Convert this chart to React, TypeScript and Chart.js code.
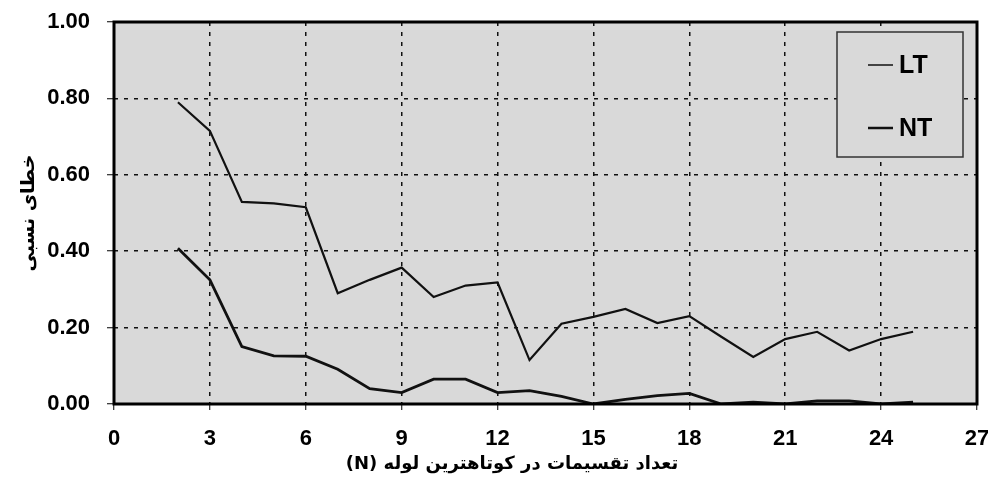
import React, { useEffect, useRef } from "react";
import { Chart, registerables } from "chart.js";

Chart.register(...registerables);

// ---- data ----
const nValues = [2, 3, 4, 5, 6, 7, 8, 9, 10, 11, 12, 13, 14, 15, 16, 17, 18, 19, 20, 21, 22, 23, 24, 25];
const ltValues = [0.79, 0.715, 0.529, 0.525, 0.515, 0.29, 0.325, 0.357, 0.28, 0.31, 0.318, 0.115, 0.21, 0.228, 0.249, 0.212, 0.23, 0.176, 0.123, 0.17, 0.189, 0.14, 0.17, 0.189];
const ntValues = [0.408, 0.325, 0.15, 0.126, 0.125, 0.091, 0.04, 0.03, 0.065, 0.065, 0.03, 0.035, 0.02, 0.0, 0.012, 0.022, 0.028, 0.0, 0.005, 0.0, 0.008, 0.008, 0.0, 0.005];
const seriesNames = ["LT", "NT"];
const xTickValues = [0, 3, 6, 9, 12, 15, 18, 21, 24, 27];
const yTickValues = [0, 0.2, 0.4, 0.6, 0.8, 1.0];
const xTitle = "تعداد تقسیمات در کوتاهترین لوله (N)";
const yTitle = "خطای نسبی";

const PLOT_BG = "#d9d9d9";
const INK = "#111111";

const frame = {
  id: "frame",
  beforeDraw(chart: any) {
    const { ctx, chartArea: a } = chart;
    ctx.save();
    ctx.fillStyle = "#ffffff";
    ctx.fillRect(0, 0, chart.width, chart.height);
    ctx.fillStyle = PLOT_BG;
    ctx.fillRect(a.left, a.top, a.right - a.left, a.bottom - a.top);
    ctx.restore();
  },
  afterDatasetsDraw(chart: any) {
    const { ctx, chartArea: a } = chart;
    ctx.save();
    // plot border
    ctx.strokeStyle = "#000";
    ctx.lineWidth = 3;
    ctx.strokeRect(a.left, a.top, a.right - a.left, a.bottom - a.top);

    // legend box
    const bx = a.right - 140;
    const by = a.top + 10;
    const bw = 126;
    const bh = 125;
    ctx.fillStyle = PLOT_BG;
    ctx.fillRect(bx, by, bw, bh);
    ctx.strokeStyle = "#333";
    ctx.lineWidth = 1.5;
    ctx.strokeRect(bx, by, bw, bh);

    const rows = [by + 33, by + 96];
    const widths = [1.5, 2.5];
    ctx.font = "bold 25px 'Liberation Sans', Arial, sans-serif";
    ctx.textBaseline = "middle";
    ctx.textAlign = "left";
    chart.data.datasets.forEach((ds: any, i: number) => {
      const y = rows[i];
      ctx.strokeStyle = INK;
      ctx.lineWidth = widths[i];
      ctx.beginPath();
      ctx.moveTo(bx + 31, y);
      ctx.lineTo(bx + 56, y);
      ctx.stroke();
      ctx.fillStyle = "#000";
      ctx.fillText(ds.label, bx + 62, y + 1);
    });
    ctx.restore();
  },
  afterDraw(chart: any) {
    const { ctx } = chart;
    ctx.save();
    ctx.font = "bold 18px 'DejaVu Sans', sans-serif";
    ctx.fillStyle = "#000";
    ctx.textAlign = "center";
    ctx.textBaseline = "middle";
    (ctx as any).direction = "rtl";
    ctx.fillText(xTitle, 512, 464);
    ctx.restore();
  },
};

export default function App() {
  const ref = useRef<HTMLCanvasElement | null>(null);

  useEffect(() => {
    if (!ref.current) return;
    const chart = new Chart(ref.current, {
      type: "line",
      data: {
        datasets: [
          {
            label: seriesNames[0],
            data: nValues.map((n, i) => ({ x: n, y: ltValues[i] })),
            borderColor: INK,
            borderWidth: 2.2,
            pointRadius: 0,
            tension: 0,
            fill: false,
          },
          {
            label: seriesNames[1],
            data: nValues.map((n, i) => ({ x: n, y: ntValues[i] })),
            borderColor: INK,
            borderWidth: 2.8,
            pointRadius: 0,
            tension: 0,
            fill: false,
          },
        ],
      },
      plugins: [frame],
      options: {
        responsive: false,
        animation: false,
        events: [],
        layout: { padding: { left: 0, top: 22, right: 11, bottom: 0 } },
        plugins: {
          legend: { display: false },
          tooltip: { enabled: false },
        },
        scales: {
          x: {
            type: "linear",
            min: 0,
            max: 27,
            afterFit: (s: any) => {
              s.height = 80;
              s.paddingLeft = 0;
              s.paddingRight = 0;
            },
            afterBuildTicks: (s: any) => {
              s.ticks = xTickValues.map((v) => ({ value: v }));
            },
            ticks: {
              color: "#000",
              padding: 16,
              maxRotation: 0,
              font: { family: "'Liberation Sans Narrow', 'Liberation Sans', Arial, sans-serif", size: 22, weight: "bold" },
              callback: (v: any) => String(v),
            },
            grid: {
              color: (c: any) => (c.tick && (c.tick.value === 0 || c.tick.value === 27) ? "rgba(0,0,0,0)" : INK),
              lineWidth: 1.5,
              tickLength: 6,
              tickColor: "#000",
              tickWidth: 1,
              tickBorderDash: [],
            },
            border: { display: false, dash: [4, 6] },
          },
          y: {
            type: "linear",
            min: 0,
            max: 1,
            afterFit: (s: any) => {
              s.width = 114;
              s.paddingTop = 0;
              s.paddingBottom = 0;
            },
            afterBuildTicks: (s: any) => {
              s.ticks = yTickValues.map((v) => ({ value: v }));
            },
            ticks: {
              color: "#000",
              padding: 17,
              font: { family: "'Liberation Sans', Arial, sans-serif", size: 22, weight: "bold" },
              callback: (v: any) => Number(v).toFixed(2),
            },
            grid: {
              color: (c: any) => (c.tick && (c.tick.value === 0 || c.tick.value === 1) ? "rgba(0,0,0,0)" : INK),
              lineWidth: 1.5,
              tickLength: 7,
              tickColor: "#000",
              tickWidth: 1,
              tickBorderDash: [],
            },
            border: { display: false, dash: [4, 6] },
            title: {
              display: true,
              text: yTitle,
              color: "#000",
              padding: { top: 18, bottom: 0 },
              font: { family: "'DejaVu Sans', sans-serif", size: 19, weight: "bold" },
            },
          },
        },
      },
    });
    return () => chart.destroy();
  }, []);

  return (
    <div style={{ position: "absolute", left: 0, top: 0, width: 988, height: 484 }}>
      <canvas ref={ref} width={988} height={484} style={{ width: 988, height: 484, display: "block" }} />
    </div>
  );
}
